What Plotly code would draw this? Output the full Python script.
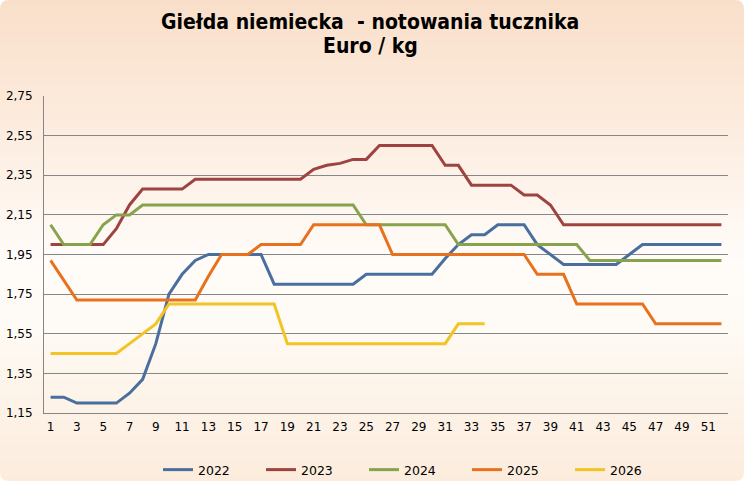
import plotly.graph_objects as go

# Dane: notowania tucznika, giełda niemiecka (Euro/kg), tydzień 1-52
weeks = list(range(1, 53))
years = ["2022", "2023", "2024", "2025", "2026"]

p2022 = [1.23, 1.23, 1.20, 1.20, 1.20, 1.20, 1.25, 1.32, 1.50, 1.75,
         1.85, 1.92, 1.95, 1.95, 1.95, 1.95, 1.95, 1.80, 1.80, 1.80,
         1.80, 1.80, 1.80, 1.80, 1.85, 1.85, 1.85, 1.85, 1.85, 1.85,
         1.93, 2.00, 2.05, 2.05, 2.10, 2.10, 2.10, 2.00, 1.95, 1.90,
         1.90, 1.90, 1.90, 1.90, 1.95, 2.00, 2.00, 2.00, 2.00, 2.00,
         2.00, 2.00]
p2023 = [2.00, 2.00, 2.00, 2.00, 2.00, 2.08, 2.20, 2.28, 2.28, 2.28,
         2.28, 2.33, 2.33, 2.33, 2.33, 2.33, 2.33, 2.33, 2.33, 2.33,
         2.38, 2.40, 2.41, 2.43, 2.43, 2.50, 2.50, 2.50, 2.50, 2.50,
         2.40, 2.40, 2.30, 2.30, 2.30, 2.30, 2.25, 2.25, 2.20, 2.10,
         2.10, 2.10, 2.10, 2.10, 2.10, 2.10, 2.10, 2.10, 2.10, 2.10,
         2.10, 2.10]
p2024 = [2.10, 2.00, 2.00, 2.00, 2.10, 2.15, 2.15, 2.20, 2.20, 2.20,
         2.20, 2.20, 2.20, 2.20, 2.20, 2.20, 2.20, 2.20, 2.20, 2.20,
         2.20, 2.20, 2.20, 2.20, 2.10, 2.10, 2.10, 2.10, 2.10, 2.10,
         2.10, 2.00, 2.00, 2.00, 2.00, 2.00, 2.00, 2.00, 2.00, 2.00,
         2.00, 1.92, 1.92, 1.92, 1.92, 1.92, 1.92, 1.92, 1.92, 1.92,
         1.92, 1.92]
p2025 = [1.92, 1.82, 1.72, 1.72, 1.72, 1.72, 1.72, 1.72, 1.72, 1.72,
         1.72, 1.72, 1.84, 1.95, 1.95, 1.95, 2.00, 2.00, 2.00, 2.00,
         2.10, 2.10, 2.10, 2.10, 2.10, 2.10, 1.95, 1.95, 1.95, 1.95,
         1.95, 1.95, 1.95, 1.95, 1.95, 1.95, 1.95, 1.85, 1.85, 1.85,
         1.70, 1.70, 1.70, 1.70, 1.70, 1.70, 1.60, 1.60, 1.60, 1.60,
         1.60, 1.60]
p2026 = [1.45, 1.45, 1.45, 1.45, 1.45, 1.45, 1.50, 1.55, 1.60, 1.70,
         1.70, 1.70, 1.70, 1.70, 1.70, 1.70, 1.70, 1.70, 1.50, 1.50,
         1.50, 1.50, 1.50, 1.50, 1.50, 1.50, 1.50, 1.50, 1.50, 1.50,
         1.50, 1.60, 1.60, 1.60]

colors = ["#4a6f9e", "#9d4340", "#87a44d", "#e8711e", "#f3c425"]
series = [p2022, p2023, p2024, p2025, p2026]

title_lines = ["Giełda niemiecka \u00a0- notowania tucznika", "Euro / kg"]
x_ticks = list(range(1, 52, 2))
y_ticks = [1.15, 1.35, 1.55, 1.75, 1.95, 2.15, 2.35, 2.55, 2.75]

# wymiary w pikselach i obszar wykresu
W, H = 744, 481
L, R, T, B = 44, 728, 96, 413


def px(xp):
    return (xp - L) / (R - L)


def py(yp):
    return (B - yp) / (B - T)


def mix(c1, c2, t):
    a = [int(c1[i:i + 2], 16) for i in (1, 3, 5)]
    b = [int(c2[i:i + 2], 16) for i in (1, 3, 5)]
    return "#%02x%02x%02x" % tuple(round(a[k] + (b[k] - a[k]) * t) for k in range(3))


fig = go.Figure()
for name, vals, col in zip(years, series, colors):
    fig.add_trace(go.Scatter(
        x=weeks[:len(vals)], y=vals, name=name, mode="lines",
        line=dict(color=col, width=3),
    ))

# tło: gradient brzoskwiniowy -> biały -> brzoskwiniowy
shapes = []
stops = [(0, "#f9dfca"), (120, "#fcebdd"), (260, "#fffcf9"), (330, "#fefaf4"), (H, "#fcecdc")]
step = 5
for y0 in range(0, H, step):
    yc = y0 + step / 2
    for (a, ca), (b, cb) in zip(stops[:-1], stops[1:]):
        if a <= yc <= b:
            c = mix(ca, cb, (yc - a) / (b - a))
            break
    shapes.append(dict(type="rect", xref="paper", yref="paper", layer="below",
                       x0=px(0), x1=px(W), y0=py(y0 + step + 0.5), y1=py(y0),
                       fillcolor=c, line=dict(width=0)))

# zaokrąglone rogi
r = 9
for cx, cy, sx, sy in [(0, 0, 1, 1), (W, 0, -1, 1), (0, H, 1, -1), (W, H, -1, -1)]:
    path = "M %f,%f L %f,%f Q %f,%f %f,%f Z" % (
        px(cx), py(cy), px(cx + sx * r), py(cy), px(cx), py(cy), px(cx), py(cy + sy * r))
    shapes.append(dict(type="path", xref="paper", yref="paper", layer="below",
                       path=path, fillcolor="white", line=dict(width=0)))

annotations = [
    dict(text="<b>%s</b>" % t, xref="paper", yref="paper", x=px(370), y=py(yy),
         xanchor="center", yanchor="middle", showarrow=False,
         font=dict(family="DejaVu Sans Condensed", size=21, color="black"))
    for t, yy in zip(title_lines, [22, 46])
]

fig.update_layout(
    width=W, height=H,
    margin=dict(l=L, r=W - R, t=T, b=H - B, autoexpand=False),
    paper_bgcolor="white",
    plot_bgcolor="rgba(0,0,0,0)",
    separators=",.",
    font=dict(family="DejaVu Sans", size=12, color="black"),
    xaxis=dict(
        range=[0.5, 52.5], tickvals=x_ticks, showgrid=False, zeroline=False,
        showline=True, linecolor="#868686", linewidth=1, ticks="",
        ticklabelstandoff=3, tickfont=dict(size=12),
    ),
    yaxis=dict(
        range=[1.15, 2.75], tickvals=y_ticks, tickformat=".2f",
        showgrid=True, gridcolor="#868686", gridwidth=1, zeroline=False,
        showline=True, linecolor="#868686", linewidth=1, ticks="",
        ticklabelstandoff=8, tickfont=dict(size=12),
    ),
    legend=dict(
        orientation="h", x=px(158), xanchor="left",
        y=py(470), yanchor="middle",
        font=dict(size=12.5), itemwidth=30, entrywidth=58,
        bgcolor="rgba(0,0,0,0)",
    ),
    shapes=shapes,
    annotations=annotations,
    showlegend=True,
)

fig.write_html("out.html", config={"displayModeBar": False},
               post_script="document.body.style.margin='0';")
